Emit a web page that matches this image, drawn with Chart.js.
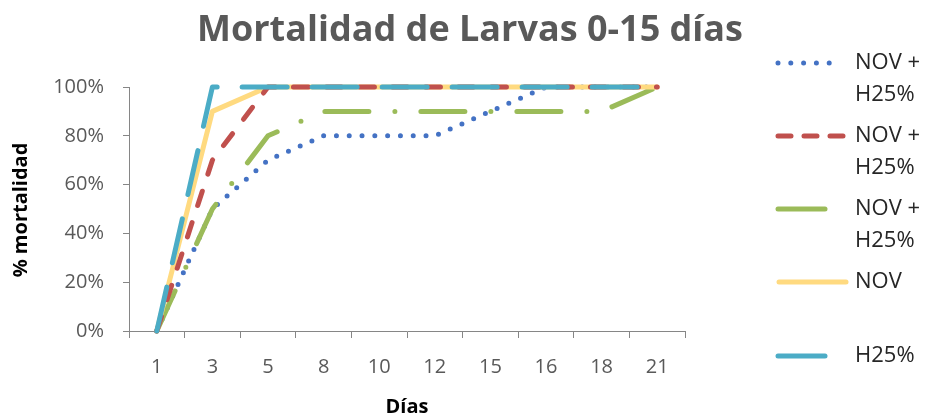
<!DOCTYPE html>
<html>
<head>
<meta charset="utf-8">
<script src="https://cdn.jsdelivr.net/npm/chart.js@4.4.1/dist/chart.umd.min.js"></script>
<style>
  html, body { margin: 0; padding: 0; background: #ffffff; }
  #wrap { width: 926px; height: 416px; }
</style>
</head>
<body>
<div id="wrap"><canvas id="chart" width="926" height="416"></canvas></div>
<script>
// Days on the x axis
const dias = ['1', '3', '5', '8', '10', '12', '15', '16', '18', '21'];

// Cumulative larval mortality (%) per treatment
const novH25Punteado = [0, 50, 70, 80, 80, 80, 90, 100, 100, 100];
const novH25Rayado   = [0, 70, 100, 100, 100, 100, 100, 100, 100, 100];
const novH25Mixto    = [0, 50, 80, 90, 90, 90, 90, 90, 90, 100];
const nov            = [0, 90, 100, 100, 100, 100, 100, 100, 100, 100];
const h25            = [0, 100, 100, 100, 100, 100, 100, 100, 100, 100];

// Y axis ticks (%)
const yTicks = [0, 20, 40, 60, 80, 100];

// Legend labels (one array entry per text line)
const legendLabels = [
  ['NOV +', 'H25%'],
  ['NOV +', 'H25%'],
  ['NOV +', 'H25%'],
  ['NOV'],
  ['H25%']
];

const FONT = "'Open Sans', 'Liberation Sans', sans-serif";
const AXIS = '#868686';

const styles = [
  { color: '#4472C4', dash: [0, 12.8], legendFrom: 778, legendTo: 842, legendDash: [0, 12.8] },
  { color: '#C0504D', dash: [15, 18], legendFrom: 778, legendTo: 843, legendDash: [13, 13] },
  { color: '#9BBB59', dash: [44, 26, 0, 26], legendFrom: 778, legendTo: 825, legendDash: [] },
  { color: '#FFDA80', dash: [], legendFrom: 779, legendTo: 846, legendDash: [] },
  { color: '#4BACC6', dash: [45, 25], legendFrom: 778, legendTo: 825, legendDash: [] }
];
const legendRows = [63, 136, 209, 282, 356];

const series = [novH25Punteado, novH25Rayado, novH25Mixto, nov, h25];
// drawing order: H25% on top, then the red dashed series, then the rest
const drawOrder = [4, 1, 3, 2, 0];

const datasets = series.map((values, i) => ({
  label: legendLabels[i].join(' '),
  data: values,
  borderColor: styles[i].color,
  backgroundColor: styles[i].color,
  borderWidth: 5,
  borderDash: styles[i].dash,
  borderCapStyle: 'round',
  borderJoinStyle: 'round',
  pointRadius: 0,
  pointHoverRadius: 0,
  tension: 0,
  fill: false,
  clip: false,
  order: drawOrder[i]
}));

const decorations = {
  id: 'decorations',
  afterDraw(chart) {
    const ctx = chart.ctx;
    ctx.save();

    // Title
    ctx.fillStyle = '#595959';
    ctx.font = `bold 36px ${FONT}`;
    ctx.textAlign = 'center';
    ctx.textBaseline = 'alphabetic';
    ctx.fillText('Mortalidad de Larvas 0-15 días', 470, 41);

    // Axis titles
    ctx.fillStyle = '#000000';
    ctx.font = `bold 20px ${FONT}`;
    ctx.textBaseline = 'middle';
    ctx.fillText('Días', 407, 407);
    ctx.save();
    ctx.translate(21, 210);
    ctx.rotate(-Math.PI / 2);
    ctx.fillText('% mortalidad', 0, 0);
    ctx.restore();

    // Legend
    ctx.textAlign = 'left';
    ctx.font = `22px ${FONT}`;
    legendLabels.forEach((lines, i) => {
      const s = styles[i];
      const y = legendRows[i];
      ctx.save();
      ctx.strokeStyle = s.color;
      ctx.lineWidth = 5;
      ctx.lineCap = 'round';
      ctx.setLineDash(s.legendDash);
      ctx.beginPath();
      ctx.moveTo(s.legendFrom, y);
      ctx.lineTo(s.legendTo, y);
      ctx.stroke();
      ctx.restore();
      ctx.fillStyle = '#262626';
      lines.forEach((t, k) => ctx.fillText(t, 855, y + k * 32));
    });

    ctx.restore();
  }
};

new Chart(document.getElementById('chart'), {
  type: 'line',
  data: { labels: dias, datasets },
  options: {
    responsive: false,
    animation: false,
    events: [],
    layout: { padding: { top: 87, right: 241, bottom: 0, left: 0 } },
    plugins: {
      legend: { display: false },
      title: { display: false },
      tooltip: { enabled: false }
    },
    scales: {
      x: {
        type: 'category',
        offset: true,
        grid: { offset: true, drawOnChartArea: false, drawTicks: true, tickLength: 7, color: AXIS, lineWidth: 1 },
        border: { color: AXIS, width: 1 },
        ticks: { font: { family: FONT, size: 20 }, color: '#595959', padding: 17, maxRotation: 0, autoSkip: false },
        afterFit(scale) { scale.height = 85; }
      },
      y: {
        min: 0,
        max: 100,
        afterBuildTicks(scale) { scale.ticks = yTicks.map(v => ({ value: v })); },
        grid: { drawOnChartArea: false, drawTicks: true, tickLength: 6, color: AXIS, lineWidth: 1 },
        border: { color: AXIS, width: 1 },
        ticks: { font: { family: FONT, size: 20 }, color: '#595959', padding: 19, callback: v => v + '%' },
        afterFit(scale) { scale.width = 129; }
      }
    }
  },
  plugins: [decorations]
});
</script>
</body>
</html>
